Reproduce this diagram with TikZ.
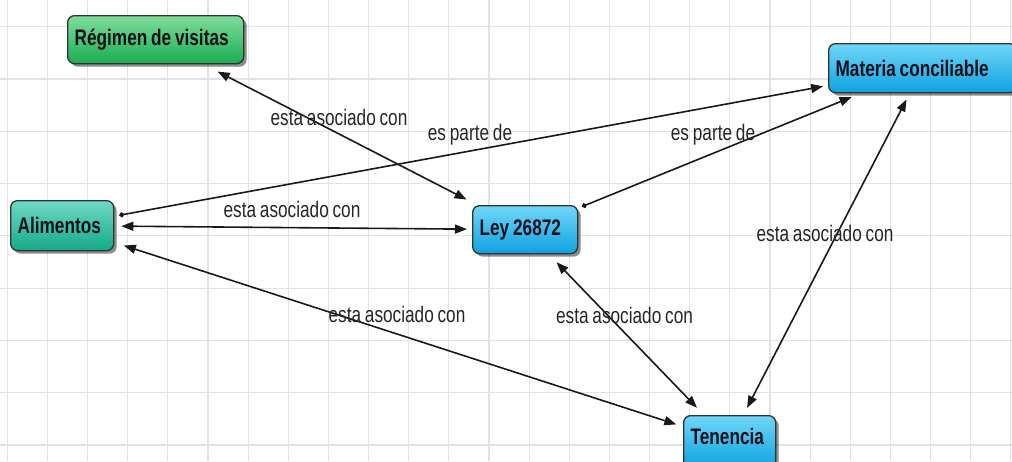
\documentclass[tikz,border=0pt]{standalone}
\usepackage{fontspec}
\setmainfont[FakeStretch=0.765, WordSpace=0.8]{Liberation Sans}
\usetikzlibrary{arrows.meta,shadows,calc}
\definecolor{gridc}{HTML}{E2E2E2}
\definecolor{bluetop}{HTML}{70D6F8}
\definecolor{bluebot}{HTML}{0EA2E0}
\definecolor{greentop}{HTML}{80DC9C}
\definecolor{greenbot}{HTML}{1AAD50}
\definecolor{tealtop}{HTML}{70D9C4}
\definecolor{tealbot}{HTML}{12A98A}
\definecolor{inkc}{HTML}{0C101A}
\definecolor{labelc}{HTML}{262626}
\newcommand{\nodefontsize}{\fontsize{22.5}{26}\selectfont}
\newcommand{\liftup}[2]{\raisebox{#1}[\height][\depth]{#2}}
\tikzset{
  concept/.style={draw=black!80, line width=1.3pt, rounded corners=7pt,
    inner xsep=7pt, inner ysep=0pt, align=flush left, anchor=north west,
    font=\nodefontsize\bfseries, text=inkc,
    drop shadow={shadow xshift=3pt, shadow yshift=-3pt, opacity=0.45, fill=black}},
  bluebox/.style={concept, top color=bluetop, bottom color=bluebot},
  greenbox/.style={concept, top color=greentop, bottom color=greenbot},
  tealbox/.style={concept, top color=tealtop, bottom color=tealbot},
  link/.style={line width=1.6pt, draw=black!90},
  both/.style={link, {Triangle[length=12pt,width=9pt]}-{Triangle[length=12pt,width=9pt]}},
  dotto/.style={link, {Circle[length=5pt]}-{Triangle[length=12pt,width=9pt]}},
  lbl/.style={font=\nodefontsize, text=labelc, anchor=base, inner sep=0pt}
}
\begin{document}
\begin{tikzpicture}[x=1pt,y=-1pt]
\useasboundingbox (0,0) rectangle (1012,461);
\fill[white] (0,0) rectangle (1012,461);
% grid
\foreach \k in {0,...,25} {
  \draw[gridc, line width=1.2pt] ({7.3+40.14*\k},0) -- ({7.3+40.14*\k},461);
}
\foreach \k in {0,...,8} {
  \draw[gridc, line width=1.2pt] (0,{445-52.3*\k}) -- (1012,{445-52.3*\k});
}
% nodes
\node[greenbox, text width=162pt, minimum height=48pt] (R) at (67,15) {Régimen de visitas};
\node[tealbox, text width=89pt, minimum height=50pt] (A) at (10,200) {Alimentos};
\node[bluebox, text width=174pt, minimum height=49pt] (M) at (828,43) {Materia conciliable};
\node[bluebox, text width=91pt, minimum height=48pt] (L) at (472,205) {Ley 26872};
\node[bluebox, text width=78pt, minimum height=52pt] (T) at (683,415) {\liftup{5pt}{Tenencia}};
% connectors
\draw[both, shorten <=12pt, shorten >=16pt] (L) -- (R);
\draw[both, shorten <=7pt, shorten >=5pt] (A) -- (L);
\draw[dotto, shorten <=5pt, shorten >=5pt] (A) -- (M);
\draw[dotto, shorten <=4pt, shorten >=10pt] (L) -- (M);
\draw[both, shorten <=7pt, shorten >=8pt] (M) -- (T);
\draw[both, shorten <=11pt, shorten >=10pt] (L) -- (T);
\draw[both, shorten <=10pt, shorten >=7pt] (A) -- (T);
% labels
\node[lbl] (l1) at (339,125) {esta asociado con};
\node[lbl] (l2) at (292,217) {esta asociado con};
\node[lbl] (l3) at (470,140) {es parte de};
\node[lbl] (l4) at (713,140) {es parte de};
\node[lbl] (l5) at (825,241) {esta asociado con};
\node[lbl] (l6) at (624.5,323) {esta asociado con};
\node[lbl] (l7) at (397,322) {esta asociado con};
\end{tikzpicture}
\end{document}
